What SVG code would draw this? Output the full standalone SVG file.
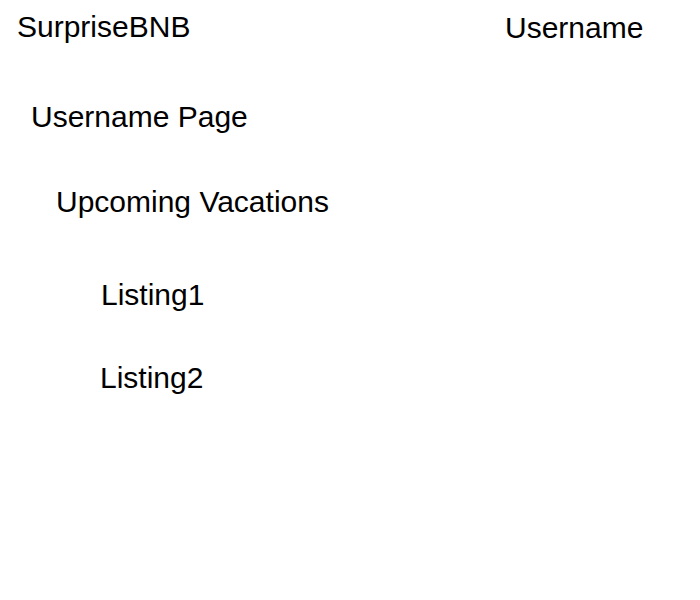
<svg xmlns="http://www.w3.org/2000/svg" width="700" height="600" viewBox="0 0 700 600">
<style>
text { font-family: "Liberation Sans", Arial, sans-serif; font-size: 30px; fill: #000; }
</style>
<rect width="700" height="600" fill="#fff"/>
<g id="brand"><text x="17" y="37">SurpriseBNB</text></g>
<g id="username"><text x="505" y="38">Username</text></g>
<g id="page-title"><text x="31" y="127">Username Page</text></g>
<g id="upcoming"><text x="56" y="212">Upcoming Vacations</text></g>
<g id="listing1"><text x="101" y="305">Listing1</text></g>
<g id="listing2"><text x="100" y="388">Listing2</text></g>
<g id="connectors"></g>
</svg>
